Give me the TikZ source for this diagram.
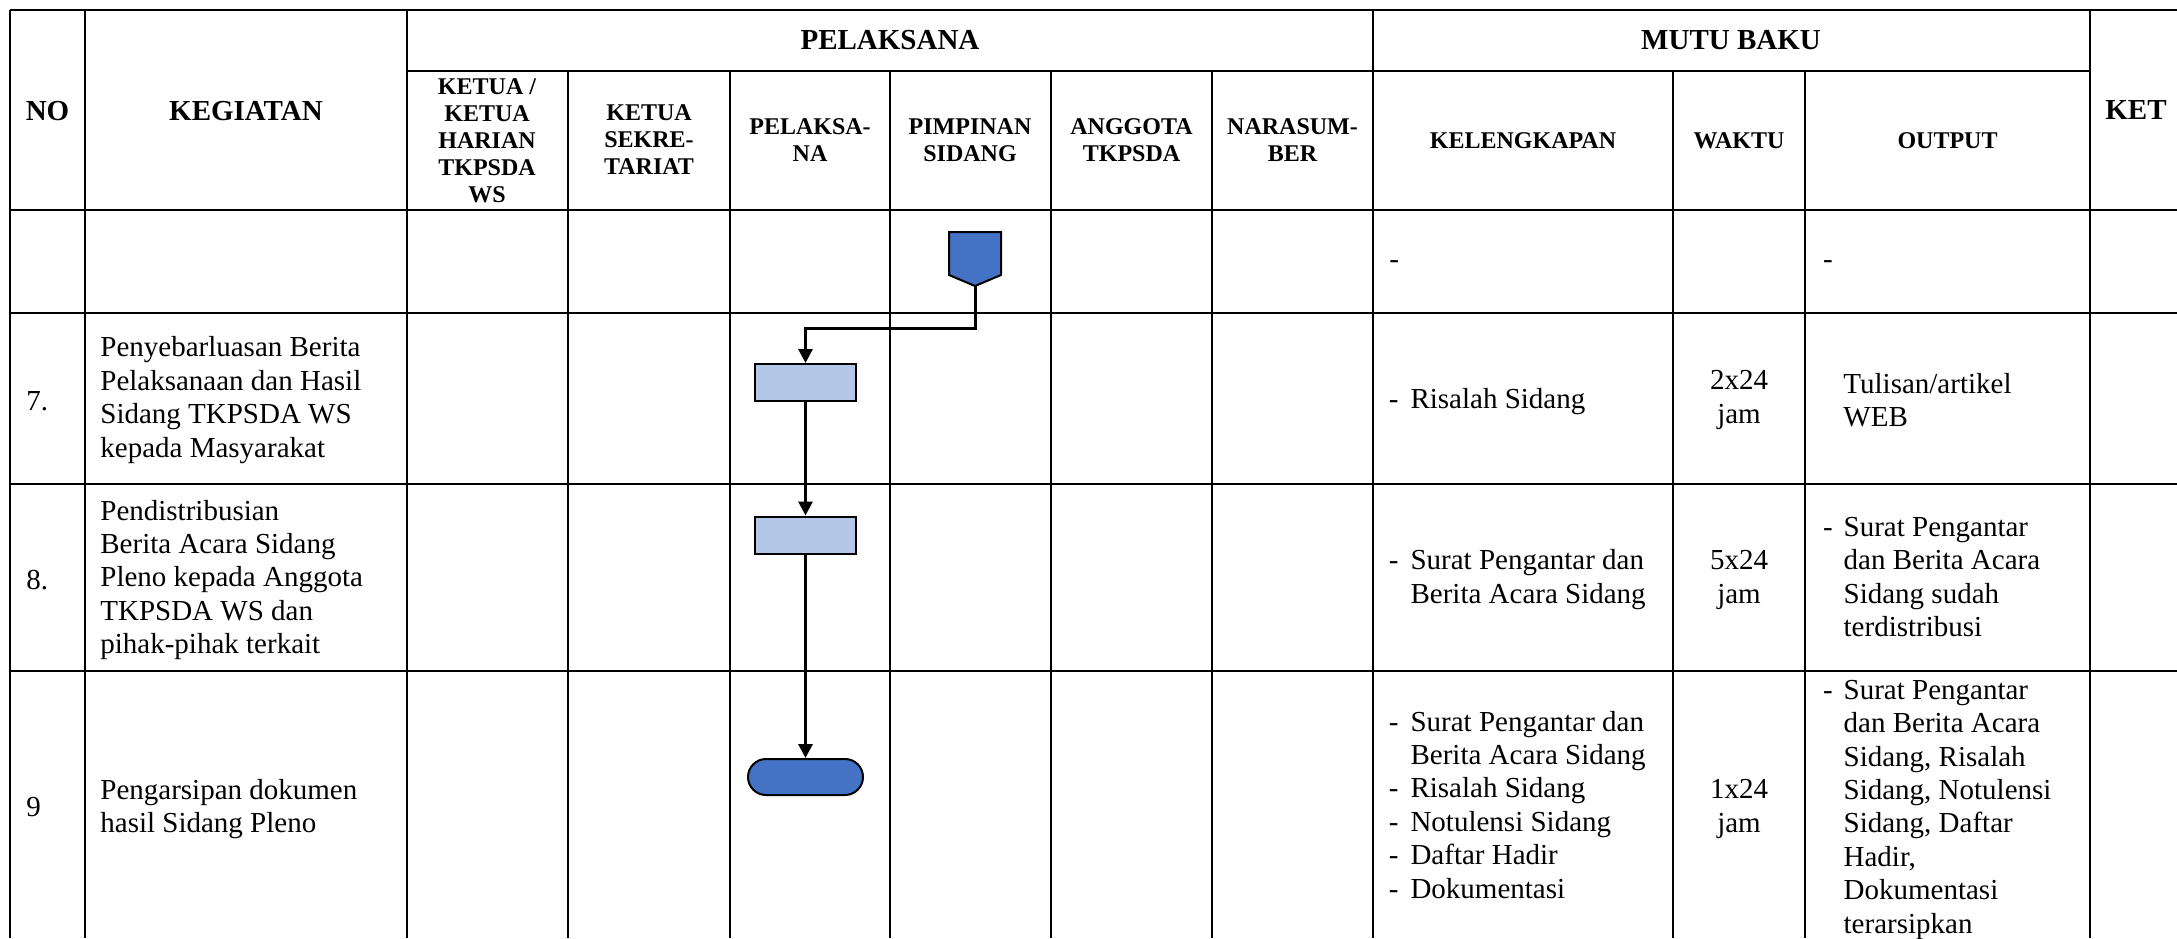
\documentclass[tikz,border=0pt]{standalone}
\usepackage{fontspec}
\setmainfont{Liberation Serif}
\usetikzlibrary{arrows.meta,calc}
\definecolor{dblue}{HTML}{4472C4}
\definecolor{lblue}{HTML}{B4C7E7}
\tikzset{
 gridline/.style={line width=1pt},
 hdr/.style={font=\bfseries\fontsize{14.5}{16.7}\selectfont, inner sep=0pt},
 sub/.style={font=\bfseries\fontsize{12}{13.5}\selectfont, inner sep=0pt, align=center},
 txt/.style={font=\fontsize{14.5}{16.7}\selectfont, inner sep=0pt, align=left, anchor=west},
 ctr/.style={font=\fontsize{14.5}{16.7}\selectfont, inner sep=0pt, align=center},
 proc/.style={draw, line width=1pt, fill=lblue, minimum width=50.5pt, minimum height=18.5pt, inner sep=0pt},
 term/.style={draw, line width=1pt, fill=dblue, rounded corners=9pt, minimum width=57.5pt, minimum height=18pt, inner sep=0pt},
 flow/.style={line width=1.5pt, -{Triangle[length=7pt,width=7pt]}},
}
\begin{document}
\begin{tikzpicture}[x=0.5pt,y=-0.5pt]
\useasboundingbox (0,0) rectangle (2177,938);
% ---- grid ----
\draw[gridline] (10,10) -- (2177,10);
\draw[gridline] (407,71) -- (2090,71);
\foreach \yy in {210,313,484,671} \draw[gridline] (10,\yy) -- (2177,\yy);
\foreach \xx in {10,85,407,1373,2090} \draw[gridline] (\xx,10) -- (\xx,938);
\foreach \xx in {568,730,890,1051,1212,1673,1805} \draw[gridline] (\xx,71) -- (\xx,938);
% ---- headers ----
\node[hdr] (hno) at (47.5,111) {NO};
\node[hdr] (hkeg) at (246,111) {KEGIATAN};
\node[hdr] (hket) at (2136,110) {KET};
\node[hdr] (hpel) at (890,40) {PELAKSANA};
\node[hdr] (hmutu) at (1731,40) {MUTU BAKU};
\node[sub] (s1) at (487,141) {KETUA /\\KETUA\\HARIAN\\TKPSDA\\WS};
\node[sub] (s2) at (649,140) {KETUA\\SEKRE-\\TARIAT};
\node[sub] (s3) at (810,140) {PELAKSA-\\NA};
\node[sub] (s4) at (970,140) {PIMPINAN\\SIDANG};
\node[sub] (s5) at (1131.5,140) {ANGGOTA\\TKPSDA};
\node[sub] (s6) at (1292.5,140) {NARASUM-\\BER};
\node[sub] (s7) at (1523,141) {KELENGKAPAN};
\node[sub] (s8) at (1739,141) {WAKTU};
\node[sub] (s9) at (1947.5,141) {OUTPUT};
% ---- blank row ----
\node[txt] (d1) at (1389,265) {-};
\node[txt] (d2) at (1822.6,265) {-};
% ---- row 7 ----
\node[txt] (n7) at (26,401) {7.};
\node[txt] (k7) at (100,400) {Penyebarluasan Berita\\Pelaksanaan dan Hasil\\Sidang TKPSDA WS\\kepada Masyarakat};
\node[txt] (l7) at (1388.5,402) {\begin{tabular}{@{}l@{\hspace{6pt}}l@{}}-&Risalah Sidang\end{tabular}};
\node[ctr] (w7) at (1739,400) {2x24\\jam};
\node[txt] (o7) at (1843,400) {Tulisan/artikel\\WEB};
% ---- row 8 ----
\node[txt] (n8) at (26,580) {8.};
\node[txt] (k8) at (100,580) {Pendistribusian\\Berita Acara Sidang\\Pleno kepada Anggota\\TKPSDA WS dan\\pihak-pihak terkait};
\node[txt] (l8) at (1388.5,580) {\begin{tabular}{@{}l@{\hspace{6pt}}l@{}}-&Surat Pengantar dan\\&Berita Acara Sidang\end{tabular}};
\node[ctr] (w8) at (1739,580) {5x24\\jam};
\node[txt] (o8) at (1822.6,580) {\begin{tabular}{@{}l@{\hspace{5.5pt}}l@{}}-&Surat Pengantar\\&dan Berita Acara\\&Sidang sudah\\&terdistribusi\end{tabular}};
% ---- row 9 ----
\node[txt] (n9) at (26,807) {9};
\node[txt] (k9) at (100,809) {Pengarsipan dokumen\\hasil Sidang Pleno};
\node[txt] (l9) at (1388.5,808) {\begin{tabular}{@{}l@{\hspace{6pt}}l@{}}-&Surat Pengantar dan\\&Berita Acara Sidang\\-&Risalah Sidang\\-&Notulensi Sidang\\-&Daftar Hadir\\-&Dokumentasi\end{tabular}};
\node[ctr] (w9) at (1739,809) {1x24\\jam};
\node[txt] (o9) at (1822.6,809.5) {\begin{tabular}{@{}l@{\hspace{5.5pt}}l@{}}-&Surat Pengantar\\&dan Berita Acara\\&Sidang, Risalah\\&Sidang, Notulensi\\&Sidang, Daftar\\&Hadir,\\&Dokumentasi\\&terarsipkan\end{tabular}};
% ---- flow ----
\draw[line width=1pt, fill=dblue] (949,232) -- (1001,232) -- (1001,275) -- (975,286) -- (949,275) -- cycle;
\coordinate (off) at (975,286);
\node[proc] (r1) at (805.5,382.5) {};
\node[proc] (r2) at (805.5,535) {};
\node[term] (t1) at (805.5,777) {};
\draw[flow] (off) |- ($(r1.north)+(0,-35)$) -- (r1.north);
\draw[flow] (r1.south) -- (r2.north);
\draw[flow] (r2.south) -- (t1.north);
\end{tikzpicture}
\end{document}
